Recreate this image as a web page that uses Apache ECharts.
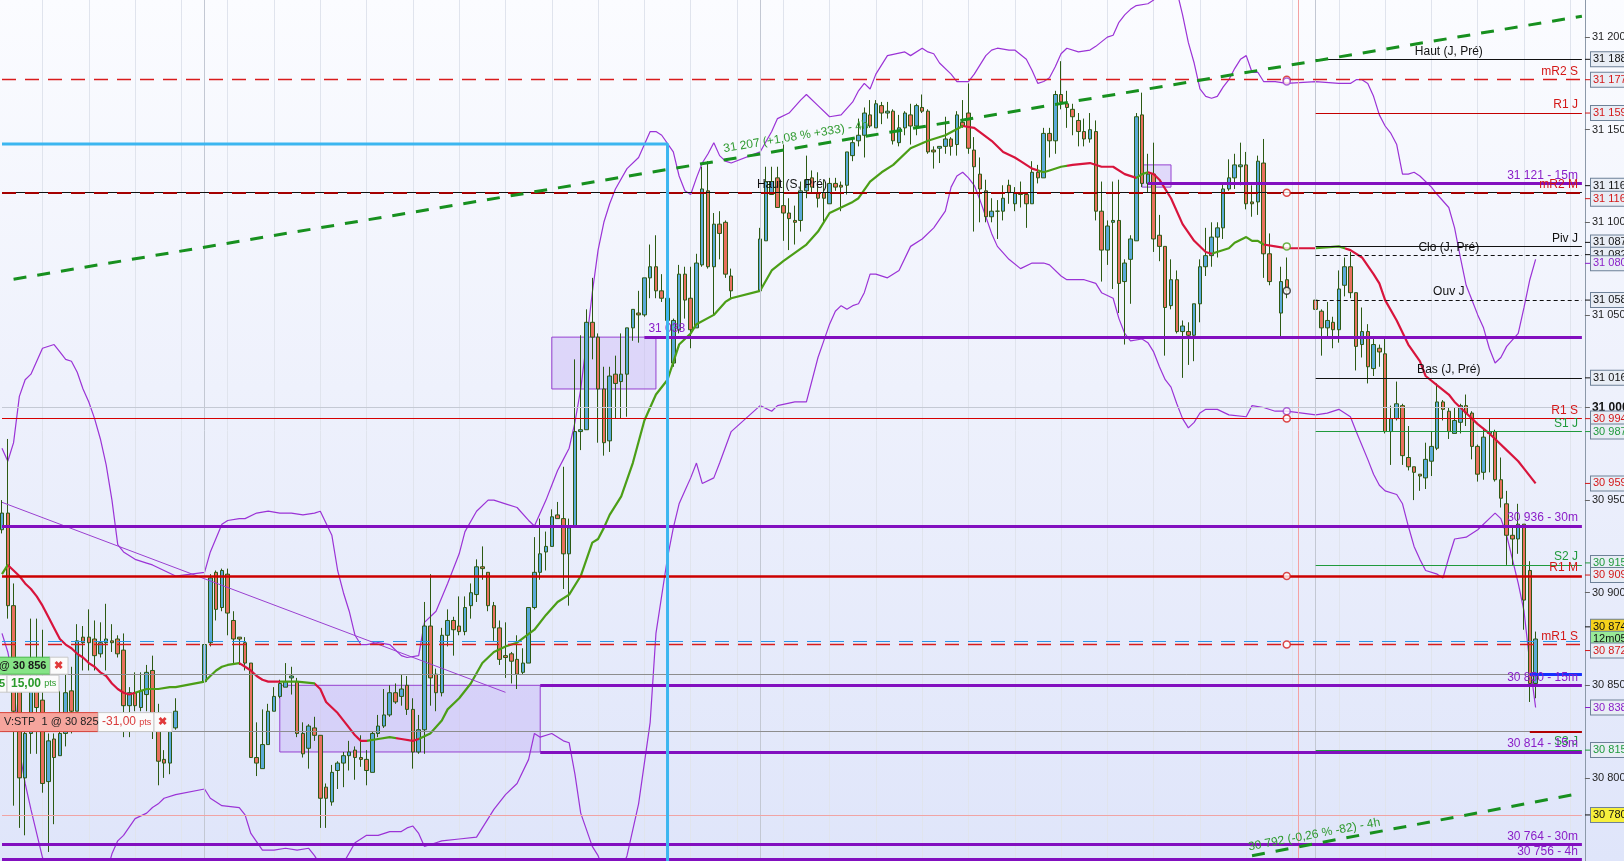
<!DOCTYPE html>
<html><head><meta charset="utf-8">
<script src="https://cdn.jsdelivr.net/npm/echarts@6/dist/echarts.min.js"></script>
<style>
html,body{margin:0;padding:0;overflow:hidden;background:#fff}
#c{width:1624px;height:861px;background:linear-gradient(180deg,#fbfcff 0%,#eef1fc 45%,#dfe5fa 100%)}
</style></head><body><div id="c"></div>
<script>
// ================= DATA =================
const slotCount = 274;
const slots = Array.from({length: slotCount}, (_, i) => String(i));

// 15-min candles: [open, close, low, high]; null = no trading
const candles = [
[30934,30943,30932,30950],[30943,30893,30886,30983],[30893,30836,30785,30905],[30847,30800,30773,30849],[30800,30824,30769,30826],[30824,30851,30813,30886],[30851,30838,30813,30886],[30842,30797,30792,30880],[30798,30820,30760,30824],[30821,30811,30775,30824],
[30812,30824,30812,30847],[30824,30846,30817,30857],[30847,30836,30824,30860],[30836,30874,30836,30883],[30876,30873,30858,30882],[30876,30873,30858,30891],[30875,30866,30858,30885],[30867,30873,30865,30884],[30873,30875,30858,30894],[30874,30873,30868,30883],
[30875,30867,30865,30877],[30869,30839,30822,30878],[30839,30846,30822,30849],[30846,30839,30836,30857],[30838,30847,30836,30857],[30845,30857,30836,30861],[30858,30826,30821,30866],[30826,30809,30796,30840],[30810,30808,30800,30815],[30808,30825,30802,30826],
[30827,30836,30826,30843],null,null,null,null,[30852,30872,30844,30886],[30873,30908,30871,30910],[30911,30891,30885,30912],[30892,30912,30890,30913],[30910,30889,30877,30913],
[30885,30875,30862,30890],[30876,30875,30861,30876],[30873,30862,30858,30876],[30862,30811,30811,30862],[30811,30808,30801,30830],[30805,30818,30805,30837],[30818,30836,30818,30840],[30836,30844,30836,30849],[30844,30851,30843,30853],[30849,30852,30849,30862],
[30854,30855,30845,30860],[30852,30824,30822,30854],[30824,30813,30811,30830],[30816,30828,30805,30829],[30827,30823,30820,30833],[30823,30789,30773,30823],[30795,30789,30773,30797],[30787,30803,30785,30807],[30804,30808,30794,30809],[30808,30812,30795,30814],
[30812,30814,30804,30820],[30815,30811,30799,30817],[30811,30810,30806,30823],[30810,30804,30796,30815],[30803,30824,30803,30825],[30824,30828,30822,30834],[30828,30834,30827,30848],[30834,30846,30833,30850],[30846,30841,30840,30851],[30844,30848,30839,30856],
[30850,30837,30834,30855],[30837,30814,30805,30843],[30814,30826,30813,30834],[30826,30882,30813,30895],[30882,30854,30839,30910],[30856,30846,30836,30859],[30846,30877,30844,30881],[30877,30885,30871,30891],[30885,30880,30866,30887],[30882,30879,30877,30898],
[30879,30892,30877,30898],[30893,30900,30886,30905],[30899,30914,30895,30918],[30914,30913,30907,30925],[30911,30893,30890,30911],[30893,30881,30874,30895],[30881,30864,30861,30885],[30866,30865,30854,30884],[30867,30863,30851,30868],[30864,30856,30848,30877],
[30857,30862,30856,30870],[30862,30892,30862,30892],[30892,30911,30891,30930],[30911,30921,30907,30940],[30922,30925,30912,30933],[30925,30941,30925,30945],[30942,30940,30940,30949],[30940,30921,30902,30968],[30921,30935,30893,30940],[30936,30987,30936,31026],
[30987,30988,30977,31039],[30988,31046,30988,31053],[31046,31038,31026,31070],[31038,31010,30981,31040],[31010,30981,30974,31022],[30982,31017,30976,31022],[31018,31013,30994,31028],[31014,31018,30994,31040],[31018,31043,30995,31043],[31043,31053,31036,31053],
[31051,31050,31035,31063],[31050,31070,31049,31070],[31070,31076,31059,31088],[31076,31063,31059,31093],[31063,31059,31057,31072],[31059,31047,31024,31061],[31024,31047,31022,31048],[31042,31072,31040,31077],[31072,31058,31048,31076],[31059,31042,31032,31076],
[31043,31078,31043,31083],[31077,31118,31076,31130],[31117,31076,31075,31133],[31076,31099,31050,31105],[31099,31094,31080,31106],[31100,31072,31070,31101],[31071,31063,31059,31075],null,null,null,
null,[31063,31091,31063,31097],[31090,31122,31090,31130],[31115,31122,31115,31130],[31124,31108,31108,31130],[31109,31105,31090,31142],[31105,31102,31085,31113],[31101,31100,31088,31109],[31101,31117,31095,31122],[31117,31123,31113,31136],
[31124,31119,31116,31128],[31116,31113,31108,31127],[31116,31113,31100,31123],[31110,31121,31110,31124],[31121,31119,31117,31124],[31120,31119,31106,31122],[31120,31138,31115,31138],[31136,31143,31133,31146],[31144,31147,31141,31156],[31147,31159,31135,31162],
[31158,31152,31151,31166],[31151,31164,31151,31166],[31163,31159,31153,31165],[31159,31160,31156,31165],[31160,31144,31142,31161],[31143,31151,31141,31158],[31151,31159,31147,31160],[31158,31152,31142,31164],[31152,31163,31147,31164],[31162,31160,31159,31169],
[31160,31138,31137,31161],[31139,31138,31129,31141],[31140,31141,31132,31141],[31141,31145,31137,31157],[31145,31141,31136,31146],[31142,31158,31136,31160],[31154,31152,31151,31166],[31159,31140,31137,31175],[31139,31130,31095,31146],[31126,31118,31100,31135],
[31117,31103,31100,31123],[31103,31106,31100,31113],[31106,31106,31091,31112],[31106,31113,31101,31120],[31120,31116,31110,31123],[31110,31116,31106,31119],[31115,31116,31108,31122],[31115,31110,31097,31116],[31110,31127,31110,31133],[31127,31124,31121,31131],
[31124,31148,31124,31151],[31148,31144,31135,31151],[31144,31169,31137,31171],[31169,31165,31161,31187],[31164,31162,31151,31171],[31161,31157,31147,31164],[31155,31149,31141,31159],[31149,31145,31141,31156],[31145,31150,31143,31159],[31149,31106,31101,31155],
[31106,31085,31068,31122],[31085,31098,31077,31101],[31100,31101,31064,31122],[31101,31067,31051,31123],[31068,31078,31034,31080],[31080,31091,31056,31093],[31090,31157,31090,31159],[31158,31121,31119,31170],[31121,31126,31116,31137],[31126,31091,31084,31143],
[31093,31087,31079,31104],[31087,31054,31028,31087],[31055,31069,31053,31080],[31069,31041,31040,31074],[31041,31044,31016,31047],[31041,31039,31023,31046],[31039,31056,31025,31056],[31056,31076,31046,31080],[31076,31082,31071,31097],[31082,31092,31076,31100],
[31092,31097,31081,31100],[31097,31118,31091,31121],[31118,31124,31117,31134],[31124,31131,31118,31137],[31130,31131,31120,31143],[31131,31110,31107,31138],[31111,31110,31103,31120],[31111,31133,31104,31136],[31132,31083,31070,31145],[31083,31068,31066,31094],
null,[31051,31068,31038,31076],[31069,31063,31059,31081],null,null,null,null,[31058,31053,31049,31076],[31052,31043,31028,31053],[31043,31047,31038,31057],
[31046,31042,31032,31049],[31042,31064,31035,31074],[31066,31076,31060,31081],[31076,31062,31059,31084],[31062,31033,31020,31062],[31034,31041,31027,31054],[31041,31022,31013,31045],[31021,31034,31017,31037],[31032,31030,31022,31034],[31029,30987,30986,31037],
[30987,30994,30969,31001],[30994,31002,30993,31014],[31001,30974,30969,31002],[30973,30968,30966,30990],[30968,30965,30950,30968],[30964,30963,30955,30964],[30962,30972,30956,30981],[30971,30979,30963,30987],[30978,31003,30977,31013],[31003,30999,30993,31004],
[30998,30987,30983,31000],[30986,30993,30986,31000],[30992,31001,30986,31002],[31001,30997,30990,31007],[30997,30979,30972,30998],[30979,30964,30960,30980],[30965,30984,30961,30989],[30986,30987,30965,30994],[30987,30961,30960,30988],[30961,30951,30946,30973],
[30948,30931,30915,30955],[30931,30929,30915,30935],[30929,30937,30921,30948],[30937,30896,30880,30937],[30912,30851,30841,30917],[30851,30875,30843,30879]
];

// moving average: [slot, value]
const maPoints = [[0,30910],[1,30915],[2,30912],[3,30909],[4,30905],[5,30902],[6,30898],[7,30893],[8,30887],[9,30881],[10,30875],[11,30872],[12,30870],[13,30867],[14,30865],[15,30862],[16,30860],[17,30857],[18,30855],[19,30851],[20,30848],[21,30846],[22,30845],[23,30846],[24,30847],[25,30848],[27,30848],[29,30849],[30,30849],[35,30852],[36,30855],[37,30858],[38,30860],[39,30861],[41,30862],[42,30860],[43,30858],[44,30855],[45,30853],[46,30852],[48,30852],[51,30852],[54,30851],[55,30848],[56,30841],[58,30835],[60,30827],[61,30823],[62,30820],[63,30820],[65,30821],[67,30822],[69,30821],[71,30820],[72,30821],[74,30824],[76,30831],[77,30837],[79,30843],[81,30851],[83,30862],[85,30868],[87,30871],[89,30873],[92,30880],[94,30888],[96,30895],[98,30899],[100,30909],[102,30927],[103,30929],[104,30935],[105,30942],[107,30952],[109,30970],[111,30993],[113,31007],[115,31015],[117,31034],[119,31040],[120,31045],[123,31050],[125,31057],[126,31059],[131,31063],[133,31074],[135,31079],[139,31088],[141,31095],[143,31105],[145,31108],[147,31111],[148,31113],[150,31122],[152,31127],[154,31131],[157,31140],[160,31144],[163,31147],[166,31152],[168,31151],[171,31144],[173,31138],[175,31135],[176,31133],[178,31129],[180,31127],[181,31128],[183,31130],[185,31131],[188,31132],[190,31130],[192,31130],[194,31126],[196,31124],[197,31126],[198,31127],[199,31126],[200,31123],[202,31113],[204,31099],[206,31090],[208,31084],[209,31083],[212,31086],[213,31089],[215,31092],[216,31090],[217,31090],[218,31088],[220,31087],[222,31086],[227,31086],[231,31087],[232,31086],[233,31085],[235,31081],[237,31072],[238,31067],[239,31058],[241,31047],[243,31034],[245,31025],[246,31017],[248,31012],[250,31007],[251,31003],[253,30997],[255,30991],[257,30986],[258,30983],[260,30977],[262,30971],[263,30967],[265,30959]];
// slots where the MA changes between rising (green) and falling (red), starting green
const maTurns = [1,23,41,48,54,63,68,72,166,179,184,196,198,209,218,227,232];

const bbUpper = [[0,30978],[1,30971],[2,30981],[3,31006],[4,31015],[5,31018],[6,31025],[7,31032],[9,31034],[10,31030],[11,31026],[12,31025],[13,31019],[14,31010],[15,31003],[16,30994],[17,30983],[18,30969],[19,30950],[20,30926],[21,30922],[23,30918],[25,30916],[26,30915],[30,30909],[35,30911],[36,30922],[38,30937],[39,30939],[41,30940],[42,30940],[44,30943],[46,30944],[48,30943],[50,30943],[52,30942],[54,30943],[55,30944],[57,30931],[58,30912],[59,30900],[60,30890],[61,30877],[62,30872],[63,30872],[65,30873],[67,30872],[69,30866],[70,30865],[72,30866],[73,30884],[75,30890],[77,30905],[79,30921],[80,30933],[82,30944],[84,30950],[85,30950],[87,30948],[89,30946],[91,30939],[92,30936],[94,30950],[95,30958],[96,30966],[97,30972],[98,30978],[99,30992],[100,31010],[101,31035],[102,31062],[103,31085],[104,31100],[105,31110],[106,31118],[108,31129],[110,31135],[112,31149],[113,31149],[114,31147],[116,31138],[117,31125],[118,31117],[119,31115],[120,31124],[121,31132],[122,31137],[123,31143],[124,31136],[125,31133],[126,31132],[131,31138],[133,31149],[134,31156],[136,31159],[138,31166],[139,31169],[141,31163],[143,31157],[145,31158],[147,31165],[148,31171],[149,31175],[150,31172],[151,31180],[153,31190],[156,31192],[157,31190],[159,31194],[160,31192],[161,31191],[162,31186],[164,31180],[165,31176],[167,31176],[168,31180],[170,31190],[171,31193],[172,31194],[174,31193],[175,31193],[177,31188],[178,31182],[179,31175],[180,31176],[181,31178],[182,31184],[183,31191],[184,31194],[186,31192],[188,31193],[189,31195],[191,31200],[192,31201],[193,31208],[194,31212],[195,31215],[196,31217],[198,31218],[199,31220],[200,31228],[201,31235],[202,31233],[203,31225],[204,31212],[205,31197],[206,31186],[207,31172],[208,31168],[209,31167],[210,31168],[211,31173],[212,31177],[213,31183],[214,31188],[215,31190],[216,31181],[217,31181],[218,31176],[220,31176],[222,31175],[227,31176],[231,31175],[233,31175],[234,31177],[235,31177],[236,31175],[237,31168],[238,31158],[239,31152],[240,31148],[241,31142],[242,31126],[243,31126],[244,31127],[245,31125],[247,31119],[248,31115],[250,31108],[251,31097],[252,31081],[253,31066],[254,31058],[255,31050],[256,31043],[257,31032],[258,31024],[259,31027],[260,31033],[262,31040],[263,31054],[264,31069],[265,31080]];

const bbLower = [[0,30878],[1,30868],[2,30852],[3,30815],[4,30797],[5,30783],[7,30757],[8,30748],[10,30738],[13,30730],[16,30735],[18,30748],[19,30759],[20,30766],[21,30769],[23,30778],[25,30781],[26,30784],[27,30786],[28,30789],[30,30791],[35,30794],[36,30789],[38,30785],[41,30784],[42,30780],[43,30770],[45,30761],[47,30761],[49,30762],[51,30761],[53,30762],[54,30758],[55,30753],[57,30748],[58,30750],[59,30754],[61,30765],[63,30769],[65,30769],[67,30771],[69,30771],[70,30773],[71,30774],[72,30770],[73,30763],[75,30765],[76,30766],[79,30767],[82,30768],[83,30773],[85,30783],[87,30791],[89,30797],[91,30810],[92,30824],[93,30822],[95,30824],[97,30820],[98,30819],[99,30802],[100,30781],[102,30763],[103,30758],[104,30750],[106,30745],[107,30750],[108,30758],[110,30786],[112,30830],[113,30878],[115,30919],[116,30935],[117,30948],[118,30955],[119,30962],[120,30970],[121,30959],[123,30962],[124,30970],[126,30987],[131,31001],[133,30998],[134,31001],[137,31003],[139,31003],[141,31027],[142,31036],[143,31045],[144,31052],[145,31055],[146,31053],[147,31055],[148,31056],[149,31062],[150,31072],[151,31072],[153,31070],[155,31074],[157,31087],[159,31091],[161,31097],[163,31106],[164,31119],[165,31125],[166,31127],[167,31124],[168,31120],[169,31112],[170,31103],[171,31094],[172,31087],[174,31080],[176,31075],[178,31078],[180,31078],[181,31077],[183,31071],[184,31069],[187,31069],[189,31067],[190,31062],[192,31059],[193,31048],[194,31040],[195,31036],[197,31037],[198,31035],[199,31030],[200,31022],[201,31015],[202,31011],[203,31002],[204,30994],[205,30989],[206,30992],[207,30997],[208,30999],[210,30999],[212,30996],[215,30995],[216,31001],[218,31000],[220,30998],[222,30998],[227,30996],[229,30997],[231,30999],[233,30995],[234,30987],[236,30972],[237,30964],[238,30958],[239,30955],[241,30953],[242,30948],[243,30936],[244,30925],[245,30918],[246,30912],[248,30910],[249,30908],[250,30919],[251,30929],[253,30930],[255,30934],[257,30940],[258,30943],[259,30940],[260,30931],[261,30918],[262,30905],[263,30890],[264,30862],[265,30838]];

// horizontal levels
const levelNames  = ['Haut (J, Pré)','mR2 S','R1 J','31 121 - 15m','Haut (S, Pré)','mR2 M','Piv J','Clo (J, Pré)','Ouv J','31 038','Bas (J, Pré)','R1 S','S1 J','30 936 - 30m','S2 J','R1 M','mR1 S','30 850 - 15m','S3 J','30 814 - 15m','30 764 - 30m','30 756 - 4h'];
const levelPrices = [31188,31177,31159,31121,31116,31116,31087,31082,31058,31038,31016,30994,30987,30936,30915,30909,30872,30850,30815,30814,30764,30756];
const levelFrom   = [227,0,227,198,0,0,227,227,227,111,227,0,227,0,227,0,0,93,227,93,0,0];
const levelKinds  = ['black','redDash','redThin','purple','black','darkRedDash','black','blackDash','blackDash','purple','black','red','green','purple','green','redThick','redDash','purple','green','purple','purple','purple'];

// unlabeled lines
const gridPrice = 31000, lastPrice = 30874, alertPrice = 30780;
const orderEntry = 30856, orderStop = 30825;
const orderEntryPts = '15,00', orderStopPts = '-31,00';
const daySlots = [35, 131, 227], nowSlot = 224, markerSlot = 222, orderSlot = 264;

// trend lines and zones
const trendUp = [[2, 31069.3], [273, 31211.3]], trendUpText = '31 207 (+1,08 % +333) - 4h';
const trendDown = [[216, 30758.0], [273, 30791.8]], trendDownText = '30 792 (-0,26 % -82) - 4h';
const fallLine = [[0, 30948.8], [87, 30846.2]];
const cyanPath = [[0, 31142.3], [115, 31142.3], [115, 30700]];
const zones = [[[95, 31038], [113, 31010]], [[48, 30850], [93, 30814]], [[197, 31131], [202, 31119]]];

// current-value markers
const markerValues = [31177, 31176, 31116, 31087, 31063, 30998, 30994, 30909, 30872];
const markerKinds  = ['red','purple','red','green','black','purple','red','red','red'];

// boxed labels on the price scale
const boxValues = [31188,31177,31159,31116,31116,31087,31082,31080,31058,31016,30994,30987,30959,30915,30909,30874,30874,30872,30838,30815,30780];
const boxTexts  = ['31 188','31 177','31 159','31 116','31 116','31 087','31 082','31 080','31 058','31 016','30 994','30 987','30 959','30 915','30 909','30 874','12m05','30 872','30 838','30 815','30 780'];
const boxKinds  = ['black','red','red','black','red','black','black','purple','black','black','red','green','red','green','red','last','timer','red','purple','green','alert'];

// ================= STYLE =================
const FONT = '"Liberation Sans", Arial, sans-serif';
const C = {black:'#111111', red:'#d41818', purple:'#8a1ec8', green:'#1f9a3c', bb:'#9b33d6', maUp:'#4b9e16', maDown:'#d8143c'};
const KIND = {
  black:{color:'#111', width:1, type:'solid', text:C.black, pos:'insideMiddleTop'},
  blackDash:{color:'#111', width:1, type:[4,3], text:C.black, pos:'insideMiddleTop'},
  redDash:{color:'#d91c1c', width:1.3, type:[14,9], text:C.red, pos:'insideEndTop'},
  darkRedDash:{color:'#a50000', width:2, type:[14,9], text:C.red, pos:'insideEndTop'},
  redThin:{color:'#c40000', width:1, type:'solid', text:C.red, pos:'insideEndTop'},
  red:{color:'#d60000', width:1.2, type:'solid', text:C.red, pos:'insideEndTop'},
  redThick:{color:'#cc0000', width:2.6, type:'solid', text:C.red, pos:'insideEndTop'},
  purple:{color:'#820fbf', width:3, type:'solid', text:C.purple, pos:'insideEndTop'},
  green:{color:'#1f9a3c', width:1, type:'solid', text:C.green, pos:'insideEndTop'}
};
const posOverride = {'Piv J':'insideEndTop', '31 038':'insideStartTop'};
const LAST = slotCount - 1;
const fmt = v => { const s = String(Math.round(v)); return s.slice(0, s.length - 3) + ' ' + s.slice(-3); };

function hLine(v, from, to, st, text, pos) {
  return [{coord:[from, v],
           lineStyle:{color:st.color, width:st.width, type:st.type},
           label: text ? {show:true, formatter:text, position:pos, color:st.text, fontSize:12, fontFamily:FONT, distance:[4,2]} : {show:false}},
          {coord:[to, v]}];
}

const levelLines = levelPrices.map((v, k) => {
  const st = KIND[levelKinds[k]];
  return hLine(v, levelFrom[k], LAST, st, levelNames[k], posOverride[levelNames[k]] || st.pos);
});
const extraLines = [
  hLine(gridPrice, 0, LAST, {color:'#c4c9d4', width:1, type:'solid'}),
  hLine(orderEntry, 0, LAST, {color:'#8d8d8d', width:1, type:'solid'}),
  hLine(orderStop, 0, LAST, {color:'#8d8d8d', width:1, type:'solid'}),
  hLine(alertPrice, 0, LAST, {color:'#f0a4a4', width:1, type:'solid'}),
  hLine(lastPrice, 0, LAST, {color:'#2a95e6', width:1, type:[14,9]}),
  hLine(orderEntry, orderSlot, LAST, {color:'#1530ff', width:3, type:'solid'}),
  hLine(orderStop, orderSlot, LAST, {color:'#b00000', width:2, type:'solid'}),
  [{coord:fallLine[0], lineStyle:{color:'#9a3fd0', width:1, type:'solid'}, label:{show:false}}, {coord:fallLine[1]}]
];
const vLines = daySlots.map(s => ({xAxis:s, lineStyle:{color:'#c3c8d3', width:1, type:'solid'}, label:{show:false}}))
  .concat([{xAxis:nowSlot, lineStyle:{color:'#f4a2a2', width:1, type:'solid'}, label:{show:false}}]);

const maPieces = [];
{ let prev = -1000; maTurns.concat([10000]).forEach((t, k) => { maPieces.push({gte:prev, lt:t, color: k % 2 === 0 ? C.maUp : C.maDown}); prev = t; }); }

const markerColor = {red:'#d61a1a', purple:'#9a3fd0', green:'#4aa01a', black:'#222'};

const chart = echarts.init(document.getElementById('c'), null, {renderer:'canvas', width:1624, height:861});
const option = {
  animation:false,
  backgroundColor:'transparent',
  grid:{left:2, right:42.1, top:-55.5, bottom:-9.5, containLabel:false, outerBoundsMode:'none'},
  xAxis:{type:'category', data:slots, boundaryGap:false,
    axisLine:{show:false}, axisTick:{show:false}, axisLabel:{show:false},
    splitLine:{show:true, interval:(i) => i % 8 === 7, lineStyle:{color:'#e0e4ed', width:1}}},
  yAxis:{type:'value', position:'right', min:30750, max:31250, interval:50, offset:3,
    axisLine:{show:true, lineStyle:{color:'#8c99a9', width:1}},
    axisTick:{show:true, length:5, lineStyle:{color:'#666'}},
    splitLine:{show:false},
    axisLabel:{margin:7, color:'#222', fontSize:11, fontFamily:FONT,
      formatter:(v) => v === gridPrice ? '{b|' + fmt(v) + '}' : fmt(v),
      rich:{b:{fontWeight:'bold', fontSize:12, color:'#111', fontFamily:FONT}}}},
  visualMap:[{type:'piecewise', show:false, seriesIndex:4, dimension:0, pieces:maPieces}],
  series:[
    {type:'line', name:'levels', z:1, data:[[0, gridPrice]], showSymbol:false, lineStyle:{opacity:0}, silent:true,
     markLine:{silent:true, symbol:['none','none'], animation:false, data: vLines.concat(extraLines, levelLines)},
     markArea:{silent:true, itemStyle:{color:'rgba(196,176,245,0.42)', borderColor:'#9540d0', borderWidth:1},
       data: zones.map(z => [{coord:z[0]}, {coord:z[1]}])}},
    {type:'line', name:'bbU', z:2, data:bbUpper, showSymbol:false, smooth:false, lineStyle:{color:C.bb, width:1.2}, silent:true},
    {type:'line', name:'bbL', z:2, data:bbLower, showSymbol:false, smooth:false, lineStyle:{color:C.bb, width:1.2}, silent:true},
    {type:'candlestick', name:'px', z:3, barWidth:4,
     data: candles.map(c => c || ['-','-','-','-']),
     itemStyle:{color:'#5aaad8', color0:'#e8705e', borderColor:'#2c5a13', borderColor0:'#2c5a13', borderColorDoji:'#2c5a13', borderWidth:1}},
    {type:'line', name:'ma', z:4, data:maPoints, showSymbol:false, lineStyle:{width:2.2}, silent:true},
    {type:'line', name:'cyan', z:5, data:cyanPath, showSymbol:false, lineStyle:{color:'#3cb6f0', width:3}, silent:true},
    {type:'line', name:'trend', z:5, data:[[0, gridPrice]], showSymbol:false, lineStyle:{opacity:0}, silent:true,
     markLine:{silent:true, symbol:['none','none'], animation:false,
       lineStyle:{color:'#17901f', width:3, type:[13,11]},
       label:{show:true, color:'#2f9a2f', fontSize:12, fontFamily:FONT},
       data:[[{coord:trendUp[0], label:{formatter:trendUpText, position:'insideMiddleTop'}}, {coord:trendUp[1]}],
             [{coord:trendDown[0], label:{formatter:trendDownText, position:'insideStartTop', distance:[-2,3]}}, {coord:trendDown[1]}]]}},
    {type:'scatter', name:'markers', z:6, symbol:'circle', symbolSize:7, silent:true,
     data: markerValues.map((v, k) => ({value:[markerSlot, v], itemStyle:{color:'#ffffff', borderColor:markerColor[markerKinds[k]], borderWidth:1.5}}))}
  ]
};
chart.setOption(option);

// ---------- graphic overlays anchored to the price scale ----------
const yPix = v => chart.convertToPixel({yAxisIndex:0}, v);
const AX = 1585;
const BOX = {
  black:{fill:'#111', bg:'#e8edf5'}, red:{fill:'#d41818', bg:'#e8edf5'}, purple:{fill:'#8a1ec8', bg:'#e8edf5'},
  green:{fill:'#1f9a3c', bg:'#e8edf5'}, last:{fill:'#111', bg:'#f5d21c'}, timer:{fill:'#111', bg:'#98ea98'}, alert:{fill:'#111', bg:'#f7f03c'}
};
const boxShift = [0,0,0,-7,6,-4,-1,4,0,0,0,0,0,-2,-1,-14,-2,6,0,0,0];
const g = [];
boxValues.forEach((v, k) => {
  const y = yPix(v) + boxShift[k];
  const b = BOX[boxKinds[k]];
  g.push({type:'line', z:100, shape:{x1:AX, y1:y, x2:AX + 6, y2:y}, style:{stroke: boxKinds[k] === 'timer' ? 'transparent' : b.fill, lineWidth:1}});
  g.push({type:'text', z:101, x:AX + 6, y:y, style:{text:boxTexts[k], fill:b.fill, font:'11px ' + FONT,
    align:'left', verticalAlign:'middle', textAlign:'left', textVerticalAlign:'middle',
    backgroundColor:b.bg, borderColor:'#6e8198', borderWidth:1, padding:[2,3,1,2]}});
});
// order tags on the left
const yE = yPix(orderEntry), yS = yPix(orderStop);
const tag = (x, y, w, h, fill, stroke) => ({type:'rect', z:100, shape:{x, y, width:w, height:h}, style:{fill, stroke, lineWidth:1}});
const txt = (x, y, text, font, fill) => ({type:'text', z:101, x, y, style:{text, font, fill, align:'left', verticalAlign:'middle', textAlign:'left', textVerticalAlign:'middle'}});
g.push(tag(-2, yE - 17, 52, 17, '#86e486', '#45b845'));
g.push(txt(-1, yE - 8.5, '@ ' + fmt(orderEntry), 'bold 11px ' + FONT, '#1a1a1a'));
g.push(tag(50, yE - 17, 18, 17, '#fbfbfb', '#c8c8c8'));
g.push(txt(54, yE - 8.5, '✖', 'bold 11px ' + FONT, '#e03a3a'));
g.push(tag(-2, yE + 1, 9, 17, '#fbfbfb', '#c8c8c8'));
g.push(txt(-1, yE + 9.5, '5', 'bold 11px ' + FONT, '#2a9a2a'));
g.push(tag(7, yE + 1, 52, 17, '#fbfbfb', '#c8c8c8'));
g.push({type:'text', z:101, x:11, y:yE + 9.5, style:{text:'{a|' + orderEntryPts + '} {b|pts}', rich:{a:{font:'bold 12px ' + FONT, fill:'#2a9a2a', color:'#2a9a2a'}, b:{font:'9px ' + FONT, fill:'#2a9a2a', color:'#2a9a2a'}}, verticalAlign:'middle', textVerticalAlign:'middle'}});
g.push(tag(-2, yS - 19, 100, 19, '#f6a59d', '#d9443c'));
g.push(txt(4, yS - 9.5, 'V:STP  1 @ ' + fmt(orderStop), '11px ' + FONT, '#222'));
g.push(tag(98, yS - 19, 56, 19, '#fbfbfb', '#c8c8c8'));
g.push({type:'text', z:101, x:102, y:yS - 9.5, style:{text:'{a|' + orderStopPts + '} {b|pts}', rich:{a:{font:'12px ' + FONT, fill:'#d93a3a', color:'#d93a3a'}, b:{font:'9px ' + FONT, fill:'#d93a3a', color:'#d93a3a'}}, verticalAlign:'middle', textVerticalAlign:'middle'}});
g.push(tag(154, yS - 19, 18, 19, '#fbfbfb', '#c8c8c8'));
g.push(txt(158, yS - 9.5, '✖', 'bold 11px ' + FONT, '#e03a3a'));
chart.setOption({graphic:g});
</script>
</body></html>
